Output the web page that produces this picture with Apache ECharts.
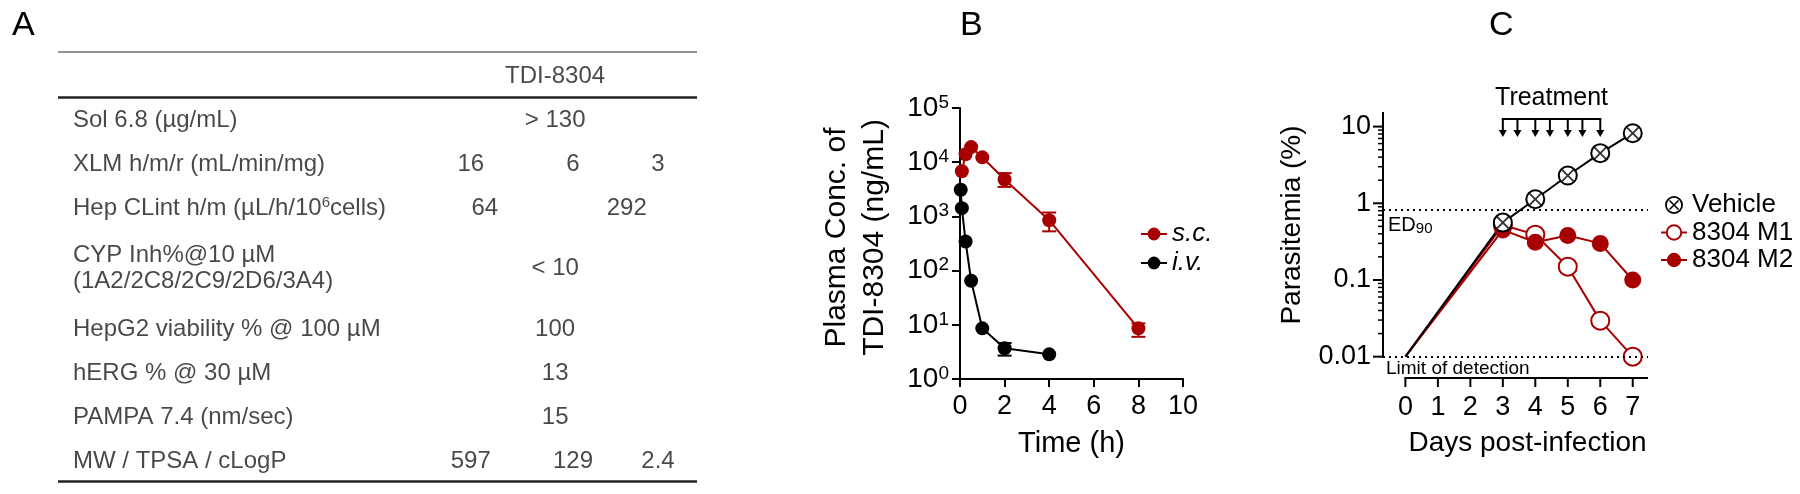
<!DOCTYPE html>
<html>
<head>
<meta charset="utf-8">
<script src="https://cdn.jsdelivr.net/npm/echarts@6/dist/echarts.min.js"></script>
<style>html,body{margin:0;padding:0;background:#fff}#main{width:1800px;height:494px}</style>
</head>
<body>
<div id="main"></div>
<script>
var FONT = '"Liberation Sans", Arial, sans-serif';
var RED = '#a80000';

// panel A: property table
var tableHeader = 'TDI-8304';
var rowLabels = [
  'Sol 6.8 (µg/mL)',
  'XLM h/m/r (mL/min/mg)',
  'Hep CLint h/m (µL/h/10^6cells)',
  'CYP Inh%@10 µM\n(1A2/2C8/2C9/2D6/3A4)',
  'HepG2 viability % @ 100 µM',
  'hERG % @ 30 µM',
  'PAMPA 7.4 (nm/sec)',
  'MW / TPSA / cLogP'
];
var rowValues = [
  ['> 130'],
  ['16', '6', '3'],
  ['64', '292'],
  ['< 10'],
  ['100'],
  ['13'],
  ['15'],
  ['597', '129', '2.4']
];

// panel B: plasma PK
var scTime = [0.083, 0.25, 0.5, 1, 2, 4, 8];
var scConc = [6800, 14000, 19000, 12300, 4800, 850, 8.6];
var scErr = [[2, 3500, 6300], [4, 530, 1180], [8, 6.0, 10.6]];
var ivTime = [0.033, 0.083, 0.25, 0.5, 1, 2, 4];
var ivConc = [3100, 1420, 345, 65, 8.6, 3.7, 2.85];
var ivErr = [[2, 2.7, 4.6]];

// panel C: parasitemia
var days = [0, 3, 4, 5, 6, 7];
var vehicle = [0.01, 0.56, 1.13, 2.3, 4.5, 8.2];
var m1 = [0.01, 0.52, 0.39, 0.149, 0.0295, 0.01];
var m2 = [0.01, 0.45, 0.31, 0.38, 0.30, 0.10];
var dayTicks = [0, 1, 2, 3, 4, 5, 6, 7];
var parasitemiaTicks = [0.01, 0.1, 1, 10];
var doseDays = [3, 3.45, 4, 4.45, 5, 5.45, 6];
var ed90 = 0.83;
var detectionLimit = 0.01;
var bracketLevel = 12.6;

var chartDom = document.getElementById('main');
var myChart = echarts.init(chartDom);
var option;

// table cells laid out on a hidden value grid
var colPos = { 1: [0.778], 2: [0.668, 0.89], 3: [0.646, 0.806, 0.939] };
var tableItems = [{ value: [0.778, 0.55], name: tableHeader }];
var rowTop = 1.05;
rowLabels.forEach(function (lab, i) {
  var lines = lab.split('\n').length;
  var h = 1 + 0.75 * (lines - 1);
  var yc = rowTop + h / 2;
  tableItems.push({ value: [0.0235, yc], name: lab, label: { align: 'left' } });
  rowValues[i].forEach(function (v, j) {
    tableItems.push({ value: [colPos[rowValues[i].length][j], yc], name: v });
  });
  rowTop += h;
});

// log minor ticks for panel C (2..9 per decade)
var minorTicks = [];
[0.01, 0.1, 1].forEach(function (d) {
  for (var k = 2; k <= 9; k++) minorTicks.push([0, d * k]);
});

var vehiclePath = 'path://M0,50A50,50,0,1,1,100,50A50,50,0,1,1,0,50ZM10,50A40,40,0,1,0,90,50A40,40,0,1,0,10,50ZM22,28L28,22L78,72L72,78ZM72,22L78,28L28,78L22,72Z';
var crossPath = 'path://M0,10L10,0L50,40L90,0L100,10L60,50L100,90L90,100L50,60L10,100L0,90L40,50Z';

function pairs(xs, ys) {
  return xs.map(function (x, i) { return [x, ys[i]]; });
}
function dayData(vals) {
  return days.map(function (d, i) {
    return i === 0 ? { value: [d, vals[i]], symbol: 'none' } : [d, vals[i]];
  });
}
function errorBars(color) {
  return function (params, api) {
    var x = api.value(0);
    var lo = api.coord([x, api.value(1)]);
    var hi = api.coord([x, api.value(2)]);
    var st = { stroke: color, lineWidth: 2 };
    return {
      type: 'group',
      children: [
        { type: 'line', shape: { x1: lo[0], y1: lo[1], x2: hi[0], y2: hi[1] }, style: st },
        { type: 'line', shape: { x1: lo[0] - 7, y1: lo[1], x2: lo[0] + 7, y2: lo[1] }, style: st },
        { type: 'line', shape: { x1: hi[0] - 7, y1: hi[1], x2: hi[0] + 7, y2: hi[1] }, style: st }
      ]
    };
  };
}

var axisBlack = { lineStyle: { color: '#000', width: 2 } };

option = {
  animation: false,
  textStyle: { fontFamily: FONT, color: '#000' },
  title: [
    { text: 'A', left: 7, top: 4, textStyle: { fontSize: 34, fontWeight: 'normal', fontFamily: FONT, color: '#000' } },
    { text: 'B', left: 955, top: 4, textStyle: { fontSize: 34, fontWeight: 'normal', fontFamily: FONT, color: '#000' } },
    { text: 'C', left: 1484, top: 4, textStyle: { fontSize: 34, fontWeight: 'normal', fontFamily: FONT, color: '#000' } }
  ],
  grid: [
    { left: 58, top: 52, width: 639, height: 429 },
    { left: 960, top: 108, width: 223, height: 271 },
    { left: 1383, top: 112, width: 265, height: 266 }
  ],
  xAxis: [
    { gridIndex: 0, type: 'value', min: 0, max: 1, show: false },
    {
      gridIndex: 1, type: 'value', min: 0, max: 10, interval: 2,
      axisLine: axisBlack,
      axisTick: { show: true, length: 8, lineStyle: { color: '#000', width: 2 } },
      axisLabel: { fontSize: 27, color: '#000', margin: 14 },
      splitLine: { show: false },
      name: 'Time (h)', nameLocation: 'middle', nameGap: 50,
      nameTextStyle: { fontSize: 29, color: '#000' }
    },
    {
      gridIndex: 2, type: 'value', min: -0.69, max: 7.47,
      axisLine: { show: false },
      axisTick: { show: false },
      axisLabel: { customValues: dayTicks, fontSize: 27, color: '#000', margin: 16 },
      splitLine: { show: false },
      name: 'Days post-infection', nameLocation: 'middle', nameGap: 51,
      nameTextStyle: { fontSize: 28, color: '#000', padding: [0, 0, 0, 24] }
    }
  ],
  yAxis: [
    { gridIndex: 0, type: 'value', min: 0, max: 9.75, inverse: true, show: false },
    {
      gridIndex: 1, type: 'log', logBase: 10, min: 1, max: 100000,
      axisLine: { show: true, lineStyle: { color: '#000', width: 2 } },
      axisTick: { show: true, length: 8, lineStyle: { color: '#000', width: 2 } },
      axisLabel: {
        margin: 11,
        formatter: function (v) {
          return '{b|10}{s|' + Math.round(Math.log10(v)) + '}';
        },
        rich: {
          b: { fontSize: 28, lineHeight: 30, color: '#000' },
          s: { fontSize: 19, lineHeight: 15, verticalAlign: 'top', color: '#000' }
        }
      },
      splitLine: { show: false },
      name: 'Plasma Conc. of\nTDI-8304 (ng/mL)', nameLocation: 'middle', nameRotate: 90, nameGap: 66,
      nameTextStyle: { fontSize: 30, lineHeight: 38, color: '#000', padding: [0, 0, 0, 12] }
    },
    {
      gridIndex: 2, type: 'log', logBase: 10, min: 0.00527, max: 15.5,
      axisLine: { show: false },
      axisTick: { show: false },
      axisLabel: {
        customValues: parasitemiaTicks, fontSize: 27, color: '#000', margin: 12,
        formatter: function (v) { return String(+v.toPrecision(3)); }
      },
      splitLine: { show: false },
      name: 'Parasitemia (%)', nameLocation: 'middle', nameRotate: 90, nameGap: 77,
      nameTextStyle: { fontSize: 28, color: '#000', padding: [0, 0, 0, 40] }
    }
  ],
  legend: [
    {
      data: ['s.c.', 'i.v.'], orient: 'vertical', left: 1135, top: 216,
      itemWidth: 26, itemHeight: 16, itemGap: 3, selectedMode: false,
      textStyle: { fontSize: 26, fontStyle: 'italic', color: '#000', fontFamily: FONT }
    },
    {
      data: [
        { name: 'Vehicle', icon: vehiclePath, itemStyle: { color: '#000', borderWidth: 0 } },
        '8304 M1', '8304 M2'
      ],
      orient: 'vertical', left: 1655, top: 187,
      itemWidth: 26, itemHeight: 18, itemGap: 1.5, selectedMode: false,
      textStyle: { fontSize: 26, color: '#000', fontFamily: FONT }
    }
  ],
  series: [
    {
      type: 'scatter', name: 'table', xAxisIndex: 0, yAxisIndex: 0, silent: true,
      symbolSize: 0, data: tableItems,
      label: {
        show: true, position: 'inside', color: '#1a1a1a',
        formatter: function (p) {
          return '{n|' + p.name.replace(/\^(\d+)/g, '}{s|$1}{n|') + '}';
        },
        rich: {
          n: { fontSize: 24, lineHeight: 26, color: '#1a1a1a', fontFamily: FONT },
          s: { fontSize: 15, lineHeight: 12, verticalAlign: 'top', color: '#1a1a1a', fontFamily: FONT }
        }
      },
      markLine: {
        silent: true, symbol: ['none', 'none'], label: { show: false },
        data: [
          { yAxis: 0, lineStyle: { color: '#707070', width: 1.5, type: 'solid' } },
          { yAxis: 1.02, lineStyle: { color: '#222', width: 2.5, type: 'solid' } },
          { yAxis: rowTop - 0.05, lineStyle: { color: '#222', width: 2.5, type: 'solid' } }
        ]
      }
    },
    {
      type: 'custom', xAxisIndex: 1, yAxisIndex: 1, silent: true, z: 1,
      data: scErr, renderItem: errorBars(RED)
    },
    {
      type: 'custom', xAxisIndex: 1, yAxisIndex: 1, silent: true, z: 1,
      data: ivErr, renderItem: errorBars('#000')
    },
    {
      type: 'line', name: 's.c.', xAxisIndex: 1, yAxisIndex: 1,
      data: pairs(scTime, scConc), symbol: 'circle', symbolSize: 14,
      itemStyle: { color: RED }, lineStyle: { color: RED, width: 2 }
    },
    {
      type: 'line', name: 'i.v.', xAxisIndex: 1, yAxisIndex: 1,
      data: pairs(ivTime, ivConc), symbol: 'circle', symbolSize: 14,
      itemStyle: { color: '#000' }, lineStyle: { color: '#000', width: 2 }
    },
    {
      // offset axis lines and major ticks of panel C
      type: 'custom', xAxisIndex: 2, yAxisIndex: 2, silent: true,
      data: [[0, detectionLimit]],
      renderItem: function (params, api) {
        var cs = params.coordSys;
        var lod = api.coord([0, detectionLimit]);
        var bottom = cs.y + cs.height;
        var st = { stroke: '#000', lineWidth: 2 };
        var kids = [
          { type: 'line', shape: { x1: cs.x, y1: cs.y, x2: cs.x, y2: lod[1] + 1 }, style: st },
          { type: 'line', shape: { x1: lod[0] - 1, y1: bottom, x2: cs.x + cs.width, y2: bottom }, style: st }
        ];
        parasitemiaTicks.forEach(function (v) {
          var p = api.coord([0, v]);
          kids.push({ type: 'line', shape: { x1: cs.x - 10, y1: p[1], x2: cs.x, y2: p[1] }, style: st });
        });
        dayTicks.forEach(function (d) {
          var p = api.coord([d, detectionLimit]);
          kids.push({ type: 'line', shape: { x1: p[0], y1: bottom, x2: p[0], y2: bottom + 9 }, style: st });
        });
        return { type: 'group', children: kids };
      }
    },
    {
      type: 'custom', xAxisIndex: 2, yAxisIndex: 2, silent: true,
      data: minorTicks,
      renderItem: function (params, api) {
        var cs = params.coordSys;
        var p = api.coord([0, api.value(1)]);
        return { type: 'line', shape: { x1: cs.x - 5, y1: p[1], x2: cs.x, y2: p[1] }, style: { stroke: '#000', lineWidth: 1.5 } };
      }
    },
    {
      type: 'custom', xAxisIndex: 2, yAxisIndex: 2, silent: true,
      data: doseDays.map(function (d) { return [d, bracketLevel]; }),
      renderItem: function (params, api) {
        var top = api.coord([api.value(0), api.value(1)]);
        var tipY = top[1] + 18;
        var kids = [
          { type: 'line', shape: { x1: top[0], y1: top[1], x2: top[0], y2: tipY - 6 }, style: { stroke: '#000', lineWidth: 2 } },
          { type: 'polygon', shape: { points: [[top[0] - 4, tipY - 7], [top[0] + 4, tipY - 7], [top[0], tipY]] }, style: { fill: '#000' } }
        ];
        if (params.dataIndex === 0) {
          var end = api.coord([doseDays[doseDays.length - 1], api.value(1)]);
          kids.push({ type: 'line', shape: { x1: top[0] - 1, y1: top[1], x2: end[0] + 1, y2: end[1] }, style: { stroke: '#000', lineWidth: 2 } });
          kids.push({ type: 'text', style: { text: 'Treatment', x: (top[0] + end[0]) / 2, y: top[1] - 21, align: 'center', verticalAlign: 'middle', fontSize: 25, fontFamily: FONT, fill: '#000' } });
        }
        return { type: 'group', children: kids };
      }
    },
    {
      type: 'line', name: '8304 M1', xAxisIndex: 2, yAxisIndex: 2,
      data: dayData(m1), symbol: 'circle', symbolSize: 18,
      itemStyle: { color: '#fff', borderColor: RED, borderWidth: 2 },
      lineStyle: { color: RED, width: 2 }
    },
    {
      type: 'line', name: '8304 M2', xAxisIndex: 2, yAxisIndex: 2,
      data: dayData(m2), symbol: 'circle', symbolSize: 17,
      itemStyle: { color: RED }, lineStyle: { color: RED, width: 2 }
    },
    {
      type: 'line', name: 'Vehicle', xAxisIndex: 2, yAxisIndex: 2,
      data: dayData(vehicle), symbol: 'circle', symbolSize: 18,
      itemStyle: { color: '#fff', borderColor: '#000', borderWidth: 2 },
      lineStyle: { color: '#000', width: 2 },
      markLine: {
        silent: true, symbol: ['none', 'none'],
        lineStyle: { type: [2, 4], color: '#000', width: 2 },
        data: [
          {
            yAxis: ed90,
            label: {
              position: 'insideStartBottom', formatter: '{a|ED}{b|90}',
              rich: {
                a: { fontSize: 20, lineHeight: 22, color: '#000', fontFamily: FONT },
                b: { fontSize: 15, lineHeight: 14, verticalAlign: 'bottom', color: '#000', fontFamily: FONT }
              }
            }
          },
          {
            yAxis: detectionLimit,
            label: { position: 'insideStartBottom', formatter: 'Limit of detection', fontSize: 19, color: '#000', fontFamily: FONT, distance: 3 }
          }
        ]
      }
    },
    {
      type: 'scatter', name: 'vehicle-cross', xAxisIndex: 2, yAxisIndex: 2, silent: true,
      data: pairs(days.slice(1), vehicle.slice(1)), symbol: crossPath, symbolSize: 13,
      itemStyle: { color: '#000' }, z: 3
    }
  ]
};
myChart.setOption(option);
</script>
</body>
</html>
